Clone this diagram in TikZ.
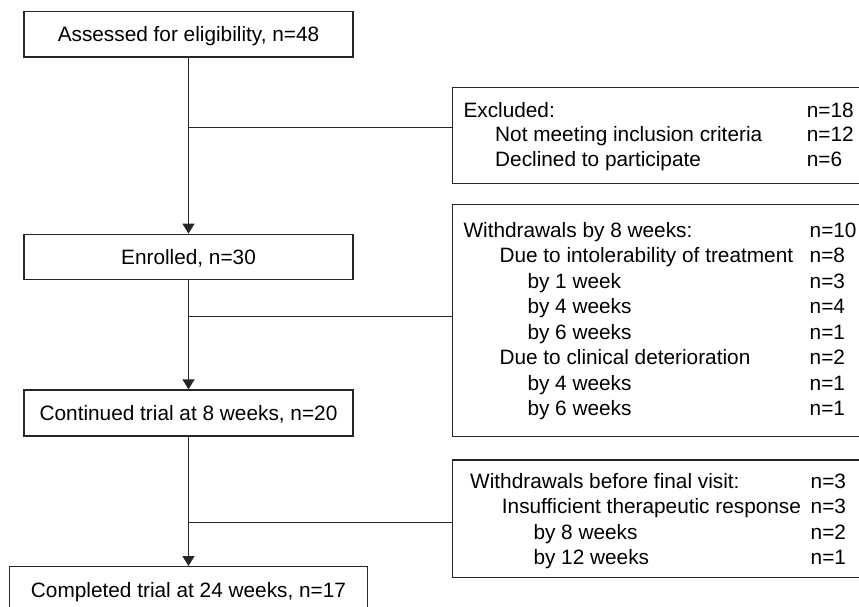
\documentclass[tikz,border=0pt]{standalone}
\usepackage{fontspec}
\setmainfont{Liberation Sans}
\usetikzlibrary{arrows.meta}
\definecolor{linec}{HTML}{262626}
\begin{document}
\begin{tikzpicture}[x=1pt,y=-1pt,
  every node/.style={font=\fontsize{20.8}{25}\selectfont},
  box/.style={draw=linec, line width=1.4pt, inner sep=0pt, text height=15pt, text depth=0pt, align=center},
  sidebox/.style={draw=linec, line width=1.4pt, inner sep=0pt},
  txt/.style={anchor=base west, inner sep=0pt},
  conn/.style={draw=linec, line width=1.4pt},
  arr/.style={conn, -{Triangle[width=12pt,length=10pt]}}
]
\useasboundingbox (0,0) rectangle (859,607);
\clip (0,0) rectangle (859,607);

% main column
\node[box, minimum width=329.3pt, minimum height=45.3pt] (a) at (188.5,34.4) {Assessed for eligibility, n=48};
\node[box, minimum width=329.3pt, minimum height=45pt] (b) at (188.5,256.8) {Enrolled, n=30};
\node[box, minimum width=329.3pt, minimum height=46pt] (c) at (188.5,413) {Continued trial at 8 weeks, n=20};
\node[box, minimum width=358pt, minimum height=45.8pt] (d) at (188.5,589.6) {Completed trial at 24 weeks, n=17};

% side boxes
\node[sidebox, minimum width=417.7pt, minimum height=96pt] (ex) at (661.15,135.3) {};
\node[sidebox, minimum width=417.7pt, minimum height=232.2pt] (w1) at (661.15,320.6) {};
\node[sidebox, minimum width=417.7pt, minimum height=117.7pt] (w2) at (661.15,518.85) {};

% junctions
\coordinate (j1) at (188.5,127.3);
\coordinate (j2) at (188.5,316.3);
\coordinate (j3) at (188.5,522.7);

\draw[arr] (a.south) -- (b.north);
\draw[arr] (b.south) -- (c.north);
\draw[arr] (c.south) -- (d.north);
\draw[conn] (j1) -- (j1 -| ex.west);
\draw[conn] (j2) -- (j2 -| w1.west);
\draw[conn] (j3) -- (j3 -| w2.west);

% Excluded text
\node[txt] (e1) at (463.3,117.5) {Excluded:};
\node[txt] (e2) at (495,142) {Not meeting inclusion criteria};
\node[txt] (e3) at (495,166.5) {Declined to participate};
\node[txt] (en1) at (806.7,117.5) {n=18};
\node[txt] (en2) at (806.7,142) {n=12};
\node[txt] (en3) at (806.7,166.5) {n=6};

% Withdrawals by 8 weeks
\node[txt] (w11) at (463.3,237) {Withdrawals by 8 weeks:};
\node[txt] (w12) at (499.3,262.5) {Due to intolerability of treatment};
\node[txt] (w13) at (527.3,288) {by 1 week};
\node[txt] (w14) at (527.3,313.5) {by 4 weeks};
\node[txt] (w15) at (527.3,339) {by 6 weeks};
\node[txt] (w16) at (499.3,364.5) {Due to clinical deterioration};
\node[txt] (w17) at (527.3,390) {by 4 weeks};
\node[txt] (w18) at (527.3,415.5) {by 6 weeks};
\node[txt] (wn11) at (809.5,237) {n=10};
\node[txt] (wn12) at (809.5,262.5) {n=8};
\node[txt] (wn13) at (809.5,288) {n=3};
\node[txt] (wn14) at (809.5,313.5) {n=4};
\node[txt] (wn15) at (809.5,339) {n=1};
\node[txt] (wn16) at (809.5,364.5) {n=2};
\node[txt] (wn17) at (809.5,390) {n=1};
\node[txt] (wn18) at (809.5,415.5) {n=1};

% Withdrawals before final visit
\node[txt] (w21) at (470,488) {Withdrawals before final visit:};
\node[txt] (w22) at (501.7,513.5) {Insufficient therapeutic response};
\node[txt] (w23) at (533.3,539) {by 8 weeks};
\node[txt] (w24) at (533.3,564.5) {by 12 weeks};
\node[txt] (wn21) at (810.5,488) {n=3};
\node[txt] (wn22) at (810.5,513.5) {n=3};
\node[txt] (wn23) at (810.5,539) {n=2};
\node[txt] (wn24) at (810.5,564.5) {n=1};
\end{tikzpicture}
\end{document}
